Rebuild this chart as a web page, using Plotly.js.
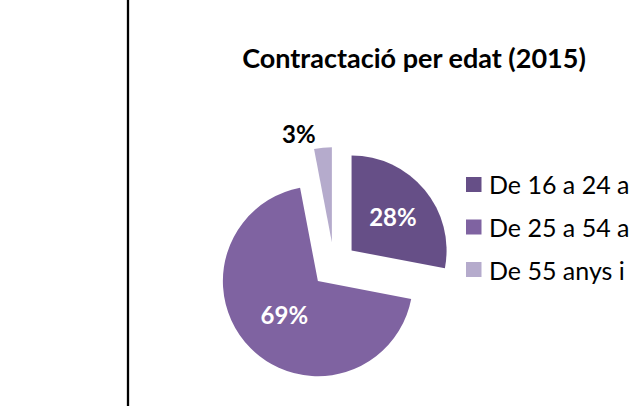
<!DOCTYPE html>
<html>
<head>
<meta charset="utf-8">
<script src="https://cdn.plot.ly/plotly-3.0.1.min.js"></script>
<style>html,body{margin:0;padding:0;background:#fff;}#chart{width:629px;height:406px;}</style>
</head>
<body>
<div id="chart"></div>
<script>
// Data
const categories = ["De 16 a 24 anys", "De 25 a 54 anys", "De 55 anys i més"];
const values = [28, 69, 3];
const colors = ["#664f87", "#7f63a1", "#b5abcc"];
const chartTitle = "Contractació per edat (2015)";

const W = 629, H = 406;
const px = x => x / W;
const py = y => 1 - y / H;
const FONT = "Lato, 'Open Sans', sans-serif";

// pie geometry (pixel)
const cx = 334, cy = 265, R = 95, pull = 0.24;
const half = R * (1 + pull);

const trace = {
  type: "pie",
  labels: categories,
  values: values,
  sort: false,
  direction: "clockwise",
  rotation: 0,
  pull: [pull, pull, pull],
  marker: { colors: colors, line: { width: 0 } },
  textinfo: "percent",
  texttemplate: "%{percent:.0%}",
  textposition: ["inside", "inside", "outside"],
  insidetextorientation: "horizontal",
  textfont: { family: FONT, size: 24, weight: "bold", color: ["#ffffff", "#ffffff", "#000000"] },
  hoverinfo: "label+percent",
  domain: { x: [px(cx - half), px(cx + half)], y: [py(cy + half), py(cy - half)] },
  showlegend: false
};

const legendRows = [184.5, 227, 269.5];
const shapes = [
  { type: "line", xref: "paper", yref: "paper", x0: px(128), x1: px(128), y0: 0, y1: 1,
    line: { color: "#000", width: 2.3 } }
];
const annotations = [];
categories.forEach((c, i) => {
  shapes.push({ type: "rect", xref: "paper", yref: "paper",
    x0: px(466), x1: px(481.5), y0: py(legendRows[i] + 7.5), y1: py(legendRows[i] - 7.5),
    fillcolor: colors[i], line: { width: 0 } });
  annotations.push({ xref: "paper", yref: "paper", x: px(487), y: py(legendRows[i]),
    xanchor: "left", yanchor: "middle", showarrow: false, text: c,
    font: { family: FONT, size: 25, color: "#000" } });
});

const layout = {
  width: W, height: H,
  margin: { l: 0, r: 0, t: 0, b: 0 },
  paper_bgcolor: "#ffffff",
  plot_bgcolor: "#ffffff",
  showlegend: false,
  title: { text: "<b>" + chartTitle + "</b>", x: px(414), xanchor: "center", xref: "paper",
    y: py(59), yanchor: "middle", yref: "paper",
    font: { family: FONT, size: 27, color: "#000" } },
  shapes: shapes,
  annotations: annotations
};

Plotly.newPlot("chart", [trace], layout, { displayModeBar: false, staticPlot: true });
</script>
</body>
</html>
